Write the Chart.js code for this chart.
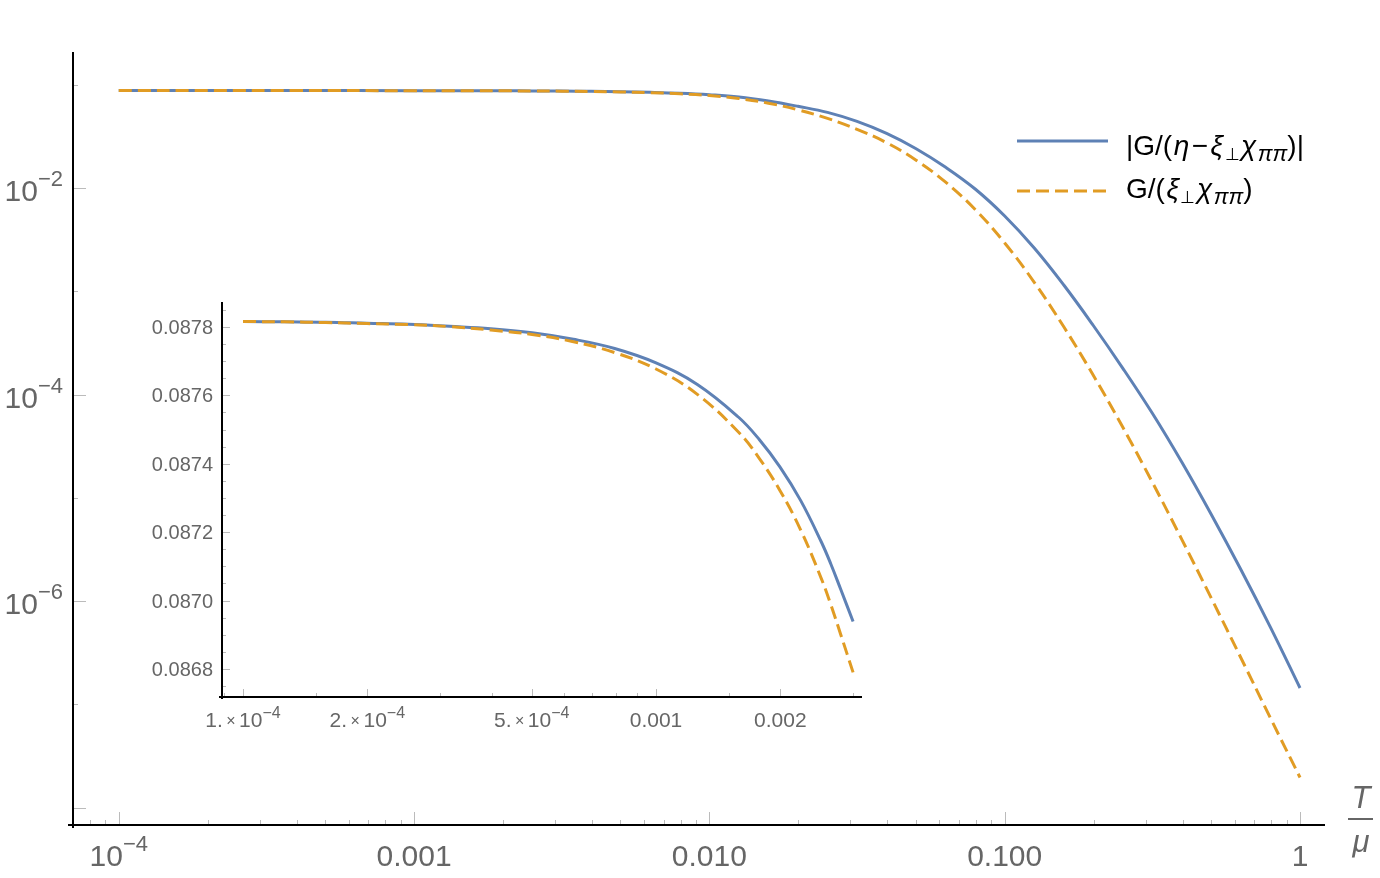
<!DOCTYPE html>
<html><head><meta charset="utf-8">
<script src="https://cdn.jsdelivr.net/npm/chart.js@4.4.1/dist/chart.umd.min.js"></script>
<style>
html,body{margin:0;padding:0;background:#fff;}
#wrap{position:relative;width:1380px;height:878px;background:#fff;}
canvas{position:absolute;left:0;top:0;}
</style></head><body>
<div id="wrap"><canvas id="main" width="1380" height="878"></canvas><canvas id="inset" width="1380" height="878"></canvas></div>
<script>
// ---------------- data ----------------
const seriesNames = ['|G/(η−ξ⊥χππ)|', 'G/(ξ⊥χππ)'];

const mainT = [1e-4, 2e-4, 4e-4,
  0.001, 0.001259, 0.001585, 0.001995, 0.002512, 0.003162, 0.003981, 0.005012, 0.00631, 0.007943,
  0.01, 0.01259, 0.01585, 0.01995, 0.02512, 0.03162, 0.03981, 0.05012, 0.0631, 0.07943,
  0.1, 0.1259, 0.1585, 0.1995, 0.2512, 0.3162, 0.3981, 0.5012, 0.631, 0.7943, 1.0];
const mainBlue = [0.087816, 0.087811, 0.087795,
  0.087695, 0.087632, 0.087536, 0.087391, 0.087172, 0.086851, 0.086354, 0.085602, 0.08447, 0.0828,
  0.0801, 0.07616, 0.06961, 0.06183, 0.05399, 0.04416, 0.03379, 0.02402, 0.01587, 0.00978,
  0.005355, 0.002623, 0.001149, 4.659e-4, 1.794e-4, 6.574e-5, 2.204e-5, 6.84e-6, 2.005e-6, 5.55e-7, 1.437e-7];
const mainOrange = [0.087816, 0.087810, 0.087791,
  0.087677, 0.087603, 0.087492, 0.087322, 0.087065, 0.086687, 0.086097, 0.085201, 0.08384, 0.08177,
  0.07866, 0.07358, 0.06629, 0.05721, 0.04721, 0.03703, 0.02746, 0.01859, 0.01138, 0.006191,
  0.002934, 0.001221, 4.525e-4, 1.535e-4, 4.812e-5, 1.411e-5, 3.933e-6, 1.059e-6, 2.805e-7, 7.33e-8, 1.953e-8];

const insetT = [1e-4, 1.259e-4, 1.585e-4, 1.995e-4, 2.512e-4, 3.162e-4, 3.981e-4, 5.012e-4, 6.310e-4, 7.943e-4,
  1e-3, 1.259e-3, 1.585e-3, 1.778e-3, 1.995e-3, 2.239e-3, 2.512e-3, 2.65e-3, 2.8e-3, 3e-3];
const insetBlue = [0.087816, 0.087815, 0.087814, 0.087811, 0.087808, 0.087802, 0.087795, 0.087783, 0.087764, 0.087737,
  0.087695, 0.087632, 0.087536, 0.087471, 0.087391, 0.087293, 0.087172, 0.087107, 0.087033, 0.086939];
const insetOrange = [0.087816, 0.087815, 0.087813, 0.087810, 0.087807, 0.087801, 0.087791, 0.087778, 0.087757, 0.087725,
  0.087677, 0.087603, 0.087492, 0.087416, 0.087322, 0.087207, 0.087065, 0.086988, 0.086901, 0.086790];

const mainXTicks = [1e-4, 1e-3, 1e-2, 0.1, 1];
const mainXLabels = ['10^−4', '0.001', '0.010', '0.100', '1'];
const mainYTicks = [1e-2, 1e-4, 1e-6];
const mainYLabels = ['10^−2', '10^−4', '10^−6'];
const insetXTicks = [1e-4, 2e-4, 5e-4, 1e-3, 2e-3];
const insetXLabels = ['1.×10^−4', '2.×10^−4', '5.×10^−4', '0.001', '0.002'];
const insetYTicks = [0.0868, 0.0870, 0.0872, 0.0874, 0.0876, 0.0878];
const insetYLabels = ['0.0868', '0.0870', '0.0872', '0.0874', '0.0876', '0.0878'];

// ---------------- styles ----------------
const blueColor = '#5E81B5';
const orangeColor = '#E19C24';
const dashPattern = [13, 6];
const labelColor = '#666666';
const tickColor = '#bbbbbb';
const FONT = '"Liberation Sans", Arial, sans-serif';

function fontOf(s) { return (s.italic ? 'italic ' : '') + s.size + 'px ' + FONT; }
function drawSegs(ctx, segs, x, y, align, color) {
  let w = 0;
  for (const s of segs) { ctx.font = fontOf(s); s.w = ctx.measureText(s.t).width + (s.pad || 0) * 2; w += s.w; }
  let cx = align === 'center' ? x - w / 2 : (align === 'right' ? x - w : x);
  ctx.textAlign = 'left'; ctx.textBaseline = 'alphabetic'; ctx.fillStyle = color;
  for (const s of segs) { ctx.font = fontOf(s); ctx.fillText(s.t, cx + (s.pad || 0), y + (s.dy || 0)); cx += s.w; }
}
function labelSegs(label, size, supRaise, supScale, timesSize, timesPad) {
  const segs = [];
  let base = label, sup = null;
  const i = label.indexOf('^');
  if (i >= 0) { base = label.slice(0, i); sup = label.slice(i + 1); }
  const j = base.indexOf('×');
  if (j >= 0) {
    segs.push({ t: base.slice(0, j), size: size });
    segs.push({ t: '×', size: timesSize, pad: timesPad, dy: -size * 0.04 });
    segs.push({ t: base.slice(j + 1), size: size });
  } else segs.push({ t: base, size: size });
  if (sup) segs.push({ t: sup, size: Math.round(size * supScale), dy: -supRaise });
  return segs;
}
function logTicks(min, max) {
  const out = [];
  for (let k = -10; k <= 2; k++) for (let m = 1; m <= 9; m++) {
    const v = m * Math.pow(10, k);
    if (v >= min && v <= max) out.push({ v: v, m: m });
  }
  return out;
}

function makeDatasets(T, b, o, w) {
  return [
    { label: seriesNames[0], data: T.map((t, i) => ({ x: t, y: b[i] })), borderColor: blueColor, borderWidth: w, pointRadius: 0, tension: 0.4, fill: false, order: 1 },
    { label: seriesNames[1], data: T.map((t, i) => ({ x: t, y: o[i] })), borderColor: orangeColor, borderWidth: w, borderDash: dashPattern, pointRadius: 0, tension: 0.4, fill: false, order: 0 }
  ];
}

// ---------------- main chart ----------------
const mainPlugin = {
  id: 'mainAxes',
  afterDraw(chart) {
    const ctx = chart.ctx, a = chart.chartArea, xs = chart.scales.x, ys = chart.scales.y;
    ctx.save();
    ctx.strokeStyle = tickColor; ctx.lineWidth = 1;
    for (const t of logTicks(xs.min, xs.max)) {
      const px = Math.round(xs.getPixelForValue(t.v)) + 0.5;
      const len = t.m === 1 ? 13 : 5;
      ctx.beginPath(); ctx.moveTo(px, a.bottom); ctx.lineTo(px, a.bottom - len); ctx.stroke();
    }
    for (let k = -1; k >= -8; k--) {
      const v = Math.pow(10, k);
      const py = Math.round(ys.getPixelForValue(v)) + 0.5;
      const len = (k % 2 === 0) ? 13 : 5;
      ctx.beginPath(); ctx.moveTo(a.left, py); ctx.lineTo(a.left + len, py); ctx.stroke();
    }
    ctx.strokeStyle = '#000'; ctx.lineWidth = 2;
    ctx.beginPath(); ctx.moveTo(a.left - 5, a.bottom); ctx.lineTo(a.right, a.bottom); ctx.stroke();
    ctx.beginPath(); ctx.moveTo(a.left, a.top); ctx.lineTo(a.left, a.bottom + 3); ctx.stroke();
    mainXTicks.forEach((v, i) => {
      drawSegs(ctx, labelSegs(mainXLabels[i], 30, 15, 0.72, 20, 2), xs.getPixelForValue(v), a.bottom + 41, 'center', labelColor);
    });
    mainYTicks.forEach((v, i) => {
      drawSegs(ctx, labelSegs(mainYLabels[i], 30, 15, 0.72, 20, 2), a.left - 10, ys.getPixelForValue(v) + 13, 'right', labelColor);
    });
    // axis title T / mu
    ctx.fillStyle = labelColor; ctx.textAlign = 'center'; ctx.textBaseline = 'alphabetic';
    ctx.font = 'italic 31px ' + FONT;
    ctx.fillText('T', 1361, a.bottom - 17);
    ctx.fillText('μ', 1361, a.bottom + 27);
    ctx.strokeStyle = labelColor; ctx.lineWidth = 2;
    ctx.beginPath(); ctx.moveTo(1348, a.bottom - 6); ctx.lineTo(1373, a.bottom - 6); ctx.stroke();
    // legend
    const ds = chart.data.datasets;
    const F = 28, S = 22;
    const rows = [
      { y: 141, base: 155, segs: [
        { t: '|G/(', size: F }, { t: 'η', size: F, italic: true, pad: 1.5 }, { t: '−', size: F, pad: 1 }, { t: 'ξ', size: F, italic: true, pad: 1.5 },
        { t: '⊥', size: 17, dy: 5 }, { t: 'χ', size: F, italic: true, pad: 1.5 }, { t: 'ππ', size: S, italic: true, dy: 6 }, { t: ')|', size: F }] },
      { y: 191, base: 198, segs: [
        { t: 'G/(', size: F }, { t: 'ξ', size: F, italic: true, pad: 1.5 },
        { t: '⊥', size: 17, dy: 5 }, { t: 'χ', size: F, italic: true, pad: 1.5 }, { t: 'ππ', size: S, italic: true, dy: 6 }, { t: ')', size: F }] }
    ];
    rows.forEach((r, i) => {
      ctx.strokeStyle = ds[i].borderColor; ctx.lineWidth = 3;
      ctx.setLineDash(ds[i].borderDash || []);
      ctx.beginPath(); ctx.moveTo(1017, r.y); ctx.lineTo(1108, r.y); ctx.stroke();
      ctx.setLineDash([]);
      drawSegs(ctx, r.segs, 1126, r.base, 'left', '#000');
    });
    ctx.restore();
  }
};

new Chart(document.getElementById('main'), {
  type: 'line',
  data: { datasets: makeDatasets(mainT, mainBlue, mainOrange, 3) },
  options: {
    responsive: false, animation: false, events: [],
    layout: { padding: { left: 73, top: 52, right: 55, bottom: 53 } },
    plugins: { legend: { display: false }, tooltip: { enabled: false } },
    scales: {
      x: { type: 'logarithmic', min: 7.07e-5, max: 1.215, display: false },
      y: { type: 'logarithmic', min: 6.77e-9, max: 0.2076, display: false }
    }
  },
  plugins: [mainPlugin]
});

// ---------------- inset chart ----------------
const insetPlugin = {
  id: 'insetAxes',
  afterDraw(chart) {
    const ctx = chart.ctx, a = chart.chartArea, xs = chart.scales.x, ys = chart.scales.y;
    ctx.save();
    ctx.strokeStyle = tickColor; ctx.lineWidth = 1;
    for (const t of logTicks(xs.min, xs.max)) {
      const px = Math.round(xs.getPixelForValue(t.v)) + 0.5;
      const major = insetXTicks.some(v => Math.abs(v - t.v) / v < 1e-6);
      const len = major ? 8 : 4;
      ctx.beginPath(); ctx.moveTo(px, a.bottom); ctx.lineTo(px, a.bottom - len); ctx.stroke();
    }
    for (const v of [1.5e-4, 1.5e-3]) {
      const px = Math.round(xs.getPixelForValue(v)) + 0.5;
      ctx.beginPath(); ctx.moveTo(px, a.bottom); ctx.lineTo(px, a.bottom - 4); ctx.stroke();
    }
    for (let n = 0; n <= 24; n++) {
      const v = 0.08675 + n * 0.00005;
      if (v < ys.min || v > ys.max) continue;
      const py = Math.round(ys.getPixelForValue(v)) + 0.5;
      const len = (n % 4 === 1) ? 8 : 4;
      ctx.beginPath(); ctx.moveTo(a.left, py); ctx.lineTo(a.left + len, py); ctx.stroke();
    }
    ctx.strokeStyle = '#000'; ctx.lineWidth = 2;
    ctx.beginPath(); ctx.moveTo(a.left - 3, a.bottom); ctx.lineTo(a.right, a.bottom); ctx.stroke();
    ctx.beginPath(); ctx.moveTo(a.left, a.top); ctx.lineTo(a.left, a.bottom + 2); ctx.stroke();
    insetXTicks.forEach((v, i) => {
      drawSegs(ctx, labelSegs(insetXLabels[i], 21, 9, 0.75, 16, 3.5), xs.getPixelForValue(v), a.bottom + 30, 'center', labelColor);
    });
    insetYTicks.forEach((v, i) => {
      drawSegs(ctx, labelSegs(insetYLabels[i], 20, 9, 0.75, 16, 3), a.left - 9, ys.getPixelForValue(v) + 7, 'right', labelColor);
    });
    ctx.restore();
  }
};

new Chart(document.getElementById('inset'), {
  type: 'line',
  data: { datasets: makeDatasets(insetT, insetBlue, insetOrange, 3) },
  options: {
    responsive: false, animation: false, events: [],
    layout: { padding: { left: 222, top: 302, right: 518, bottom: 181 } },
    plugins: { legend: { display: false }, tooltip: { enabled: false } },
    scales: {
      x: { type: 'logarithmic', min: 8.896e-5, max: 3.153e-3, display: false },
      y: { type: 'linear', min: 0.086718, max: 0.087873, display: false }
    }
  },
  plugins: [insetPlugin]
});
</script>
</body></html>
